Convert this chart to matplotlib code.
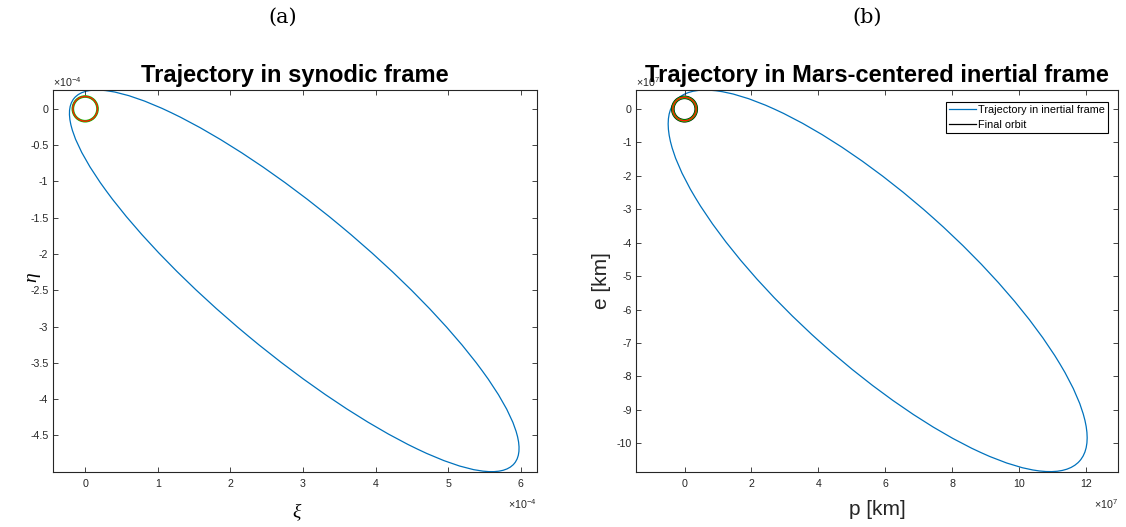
import matplotlib
matplotlib.use('Agg')
import matplotlib.pyplot as plt
from matplotlib.patches import Ellipse, Circle
from matplotlib.lines import Line2D
from matplotlib.ticker import FuncFormatter

plt.rcParams['font.family'] = ['Liberation Sans', 'DejaVu Sans']
plt.rcParams['mathtext.default'] = 'regular'

# --- data ---
# synodic frame (units of 1e-4)
syn_center = (2.88e-4, -2.37e-4)
syn_semi_axes = (3.94e-4, 0.99e-4)
syn_tilt_deg = -39.7
syn_final_radius = 0.17e-4
syn_xticks = [0e-4, 1e-4, 2e-4, 3e-4, 4e-4, 5e-4, 6e-4]
syn_yticks = [0e-4, -0.5e-4, -1e-4, -1.5e-4, -2e-4, -2.5e-4, -3e-4, -3.5e-4, -4e-4, -4.5e-4]

# Mars-centered inertial frame (units of 1e7 km)
in_center = (5.77e7, -5.14e7)
in_semi_axes = (8.09e7, 2.51e7)
in_tilt_deg = -41.8
in_final_radius = 0.35e7
in_xticks = [0, 2e7, 4e7, 6e7, 8e7, 10e7, 12e7]
in_yticks = [0, -1e7, -2e7, -3e7, -4e7, -5e7, -6e7, -7e7, -8e7, -9e7, -10e7]

legend_labels = ['Trajectory in inertial frame', 'Final orbit']

BLUE = '#0072BD'
AXC = '#262626'


def style_axes(ax, scale, xticks, yticks):
    ax.set_xticks(xticks)
    ax.set_yticks(yticks)
    fmt = FuncFormatter(lambda v, p: f'{v / scale:g}')
    ax.xaxis.set_major_formatter(fmt)
    ax.yaxis.set_major_formatter(fmt)
    ax.tick_params(direction='in', length=3.6, width=0.6, top=True, right=True,
                   labelsize=7.7, colors=AXC)
    ax.tick_params(axis='x', pad=5.2)
    ax.tick_params(axis='y', pad=3)
    for s in ax.spines.values():
        s.set_color(AXC)
        s.set_linewidth(0.8)


def add_offsets(ax, txt):
    ax.annotate(txt, xy=(0, 1), xycoords='axes fraction', xytext=(0, 2.4),
                textcoords='offset points', ha='left', va='baseline',
                fontsize=7.7, color=AXC)
    ax.annotate(txt, xy=(1, 0), xycoords='axes fraction', xytext=(0, -27),
                textcoords='offset points', ha='right', va='baseline',
                fontsize=7.7, color=AXC)


def final_orbit(ax, r, with_black):
    if with_black:
        ax.add_patch(Circle((0, 0), r, fill=False, ec='black', lw=2.6, zorder=3))
    ax.add_patch(Circle((0, 0), r, fill=False, ec='#00c000', lw=1.9, zorder=4))
    ax.add_patch(Circle((0, 0), r, fill=False, ec='#ff1a00', lw=1.0, zorder=5))


fig = plt.figure(figsize=(11.26, 5.27), dpi=100)
ax1 = fig.add_axes([0.04663, 0.10493, 0.43002, 0.72429])
ax2 = fig.add_axes([0.56483, 0.10493, 0.42806, 0.72429])

# (a) synodic frame
ax1.add_patch(Ellipse(syn_center, 2 * syn_semi_axes[0], 2 * syn_semi_axes[1],
                      angle=syn_tilt_deg, fill=False, ec=BLUE, lw=0.9))
final_orbit(ax1, syn_final_radius, False)
ax1.set_xlim(-0.45e-4, 6.22e-4)
ax1.set_ylim(-5.0e-4, 0.26e-4)
style_axes(ax1, 1e-4, syn_xticks, syn_yticks)
add_offsets(ax1, '×10$^{-4}$')
ax1.set_title('Trajectory in synodic frame', fontsize=17, fontweight='bold', y=1.0, pad=5.5)
ax1.set_xlabel('ξ', fontfamily='Liberation Serif', style='italic', fontsize=14, va='center')
ax1.xaxis.set_label_coords(0.503, -0.106)
ax1.set_ylabel('η', fontfamily='Liberation Serif', style='italic', fontsize=14, va='center')
ax1.yaxis.set_label_coords(-0.043, 0.51)

# (b) Mars-centered inertial frame
ax2.add_patch(Ellipse(in_center, 2 * in_semi_axes[0], 2 * in_semi_axes[1],
                      angle=in_tilt_deg, fill=False, ec=BLUE, lw=0.9))
final_orbit(ax2, in_final_radius, True)
ax2.set_xlim(-1.45e7, 12.95e7)
ax2.set_ylim(-10.85e7, 0.57e7)
style_axes(ax2, 1e7, in_xticks, in_yticks)
add_offsets(ax2, '×10$^{7}$')
ax2.set_title('Trajectory in Mars-centered inertial frame', fontsize=17, fontweight='bold', y=1.0, pad=5.5)
ax2.set_xlabel('p [km]', fontsize=15, color=AXC, va='center')
ax2.xaxis.set_label_coords(0.5, -0.1)
ax2.set_ylabel('e [km]', fontsize=15, color=AXC, va='center')
ax2.yaxis.set_label_coords(-0.0726, 0.5)

handles = [Line2D([], [], color=BLUE, lw=0.9), Line2D([], [], color='black', lw=0.9)]
leg = ax2.legend(handles, legend_labels, loc='upper right', bbox_to_anchor=(0.98, 0.9686),
                 borderaxespad=0, fontsize=7.8, handlelength=2.5, handletextpad=0.2,
                 borderpad=0.3, labelspacing=0.45, fancybox=False, framealpha=1,
                 edgecolor='black')
leg.get_frame().set_linewidth(0.8)

fig.text(283 / 1126, 1 - 17 / 527, '(a)', fontfamily='DejaVu Serif', fontsize=15,
         ha='center', va='center')
fig.text(867 / 1126, 1 - 17 / 527, '(b)', fontfamily='DejaVu Serif', fontsize=15,
         ha='center', va='center')

fig.savefig('out.png', dpi=100)
